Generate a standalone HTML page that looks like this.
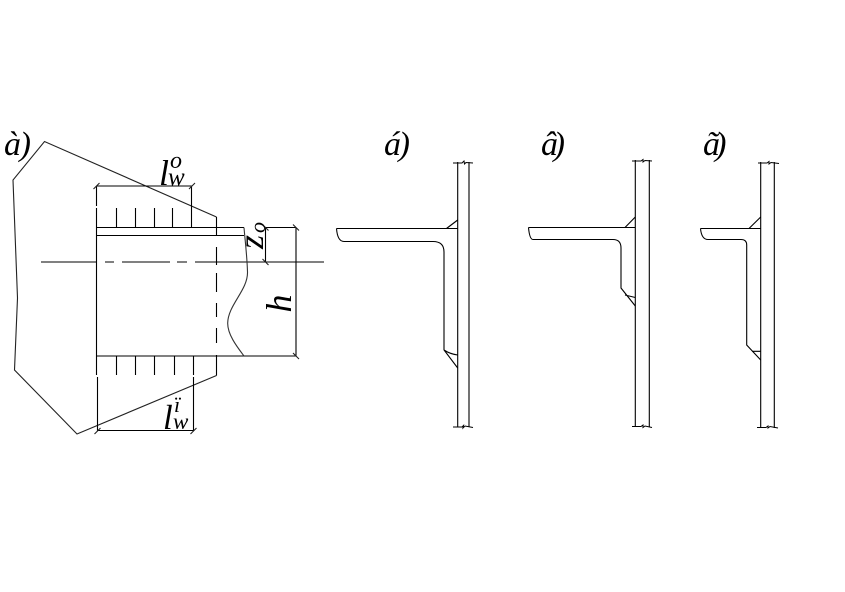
<!DOCTYPE html>
<html>
<head>
<meta charset="utf-8">
<style>
html,body{margin:0;padding:0;background:#fff;width:845px;height:592px;overflow:hidden}
svg{display:block}
text{font-family:"Liberation Serif",serif;font-style:italic;fill:#000}
</style>
</head>
<body>
<svg width="845" height="592" viewBox="0 0 845 592" xmlns="http://www.w3.org/2000/svg">
<g fill="none" stroke="#000" stroke-width="1.1">
<!-- a: outline -->
<polyline points="216.5,217 44.5,141.5 13,180 17.5,298 14.5,370 77,434 216.5,375.5" stroke="#222"/>
<!-- horizontal lines -->
<path d="M96.5,227.5H244M96.5,235.5H244M96.5,356H296"/>
<!-- left verticals -->
<path d="M96.5,186V206M96.5,208V375M97.5,377V431"/>
<!-- dims -->
<path d="M96.5,186H192M97.5,430.5H193.5"/>
<!-- ticks top -->
<path d="M116.5,208V227.5M135.5,208V227.5M154.5,208V227.5M172.5,208V227.5M191.5,186V227.5"/>
<!-- ticks bottom -->
<path d="M116.5,356V375M135.5,356V375M154.5,356V375M174.5,356V375M193.5,356V375M193.5,377V431"/>
<!-- right dashed -->
<path d="M216.5,217V235.5M216.5,247V265M216.5,273V292M216.5,303V317M216.5,328V343M216.5,355V375.5"/>
<!-- centre line -->
<path d="M41,262H96M105,262H114M122,262H170M177,262H187M195,262H324"/>
<!-- wave -->
<path d="M244,227.5C245,240 247,255 247.5,272C248,290 228,305 227.7,323C227.5,335 238,348 244,356" stroke="#333"/>
<!-- h and z dims -->
<path d="M265.5,227.5H296M296,227.5V356M265.5,227.5V262"/>
<!-- dim ticks -->
<path d="M93.5,189L99.5,183M189,189L195,183M94.5,434L100.5,428M190.5,434L196.5,428M293,224.5L299,230.5M293,353L299,359M262.5,224.5L268.5,230.5M262.5,259L268.5,265" stroke="#222"/>

<!-- b -->
<path d="M457.7,162V427M469,162V427"/>
<path d="M453,163H462L464,161L464.5,164L466,162.5L473,163M453,427H462L463.5,425.5L463,428L465,426L473,427.5" stroke-width="1"/>
<path d="M336.5,228.5H458M344,241.5H433Q444,241.5 444,252V350L457.7,368M444,350Q450,354 457.7,355M446.5,228.5L457.7,220"/>
<path d="M336.5,228.5C337,235 339,241.5 344,241.5"/>

<!-- c -->
<path d="M635.3,160V427M649.3,160V427"/>
<path d="M632,161H641L643,159.5L643,162L645,160.5L652,161M632,426.5H641L643,425L643,427.5L645,426L652,427.5" stroke-width="1"/>
<path d="M528.5,227.5H635.3M533,239.5H613Q621,239.5 621,248V288L635.3,306M625,295L635.3,297.5M625,227.5L635.3,217"/>
<path d="M528.5,227.5C529,233 530,239.5 533,239.5"/>

<!-- d -->
<path d="M760.7,162V428M774.3,162V428"/>
<path d="M758,163H767L769,161.5L769,164L771,162.5L779,163.5M757,427.5H766L768,426L768,428L770,426.5L778,428" stroke-width="1"/>
<path d="M700.5,228.5H760.7M708,239.5H741Q746.7,239.5 746.7,245V345L760.7,360M752,351.3H760.7M749,228.5L760.7,217"/>
<path d="M700.5,228.5C701,234 703,239.5 708,239.5"/>
</g>

<text x="4" y="155" font-size="34" textLength="27" lengthAdjust="spacing">à)</text>
<text x="384" y="155" font-size="34" textLength="26" lengthAdjust="spacing">á)</text>
<text x="541" y="155" font-size="34" textLength="24" lengthAdjust="spacing">â)</text>
<text x="703" y="155" font-size="34" textLength="23.5" lengthAdjust="spacing">ã)</text>

<text x="159" y="185" font-size="36">l</text>
<text x="170" y="168" font-size="24">o</text>
<text x="168" y="185" font-size="25">w</text>

<text x="163" y="429" font-size="35">l</text>
<text x="174" y="412" font-size="22">ï</text>
<text x="173" y="429" font-size="23">w</text>

<text transform="translate(291,312.5) rotate(-90)" font-size="36">h</text>
<text transform="translate(263,249) rotate(-90)" font-size="36">z</text>
<text transform="translate(265,233) rotate(-90)" font-size="22">o</text>
</svg>
</body>
</html>
